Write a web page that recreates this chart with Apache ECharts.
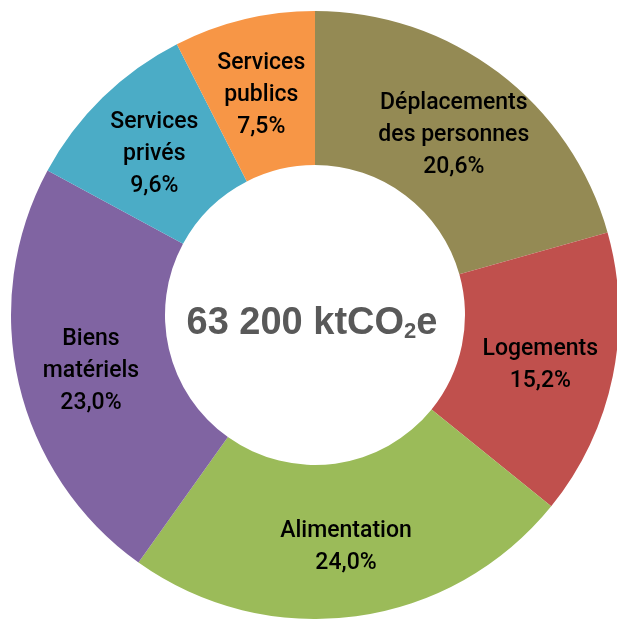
<!DOCTYPE html>
<html><head><meta charset="utf-8">
<script src="https://cdn.jsdelivr.net/npm/echarts@6/dist/echarts.min.js"></script>
<style>html,body{margin:0;padding:0;background:#fff}#c{width:617px;height:619px}</style>
</head><body><div id="c"></div>
<script>
const categories = ['Déplacements\ndes personnes', 'Logements', 'Alimentation', 'Biens\nmatériels', 'Services\nprivés', 'Services\npublics'];
const shares = [20.6, 15.2, 24.0, 23.0, 9.6, 7.5];
const colors = ['#948A54', '#C0504D', '#9BBB59', '#8064A2', '#4BACC6', '#F79646'];
const totalNumber = '63 200 ktCO';
const totalSub = '2';
const totalUnit = 'e';

const chart = echarts.init(document.getElementById('c'));
chart.setOption({
  animation: false,
  series: [{
    type: 'pie',
    center: [315, 315],
    radius: [150, 304],
    startAngle: 90,
    clockwise: true,
    avoidLabelOverlap: false,
    label: {
      show: true,
      position: 'inside',
      color: '#000',
      fontFamily: 'Roboto, "Liberation Sans", sans-serif',
      fontWeight: 500,
      fontSize: 23,
      lineHeight: 32,
      formatter: p => p.name + '\n' + p.value.toFixed(1).replace('.', ',') + '%'
    },
    labelLayout: { dy: 4 },
    labelLine: { show: false },
    itemStyle: { borderWidth: 0 },
    emphasis: { disabled: true },
    data: categories.map((n, i) => ({ name: n, value: shares[i], itemStyle: { color: colors[i] } }))
  }],
  graphic: [{
    type: 'text',
    x: 312, y: 324,
    style: {
      text: '{a|' + totalNumber + '}{b|' + totalSub + '}{a|' + totalUnit + '}',
      align: 'center',
      verticalAlign: 'middle',
      fill: '#595959',
      rich: {
        a: { fontFamily: '"Liberation Sans", Arial, sans-serif', fontWeight: 'bold', fontSize: 38, fill: '#595959' },
        b: { fontFamily: '"Liberation Sans", Arial, sans-serif', fontWeight: 'bold', fontSize: 22, fill: '#595959', verticalAlign: 'bottom', padding: [16, 0, 0, 0] }
      }
    }
  }]
});
</script></body></html>
